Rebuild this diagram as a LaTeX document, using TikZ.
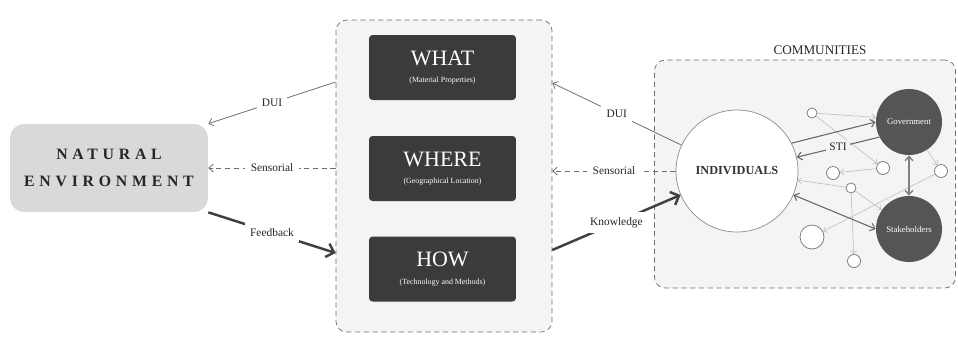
\documentclass[tikz,border=0pt]{standalone}
\usepackage{fontspec}
\setmainfont{Liberation Serif}
\usepackage{xcolor}
\usepackage{tikz}
\usetikzlibrary{arrows.meta}

\definecolor{panelgray}{HTML}{F4F4F4}
\definecolor{envgray}{HTML}{D9D9D9}
\definecolor{boxdark}{HTML}{3B3B3B}
\definecolor{circdark}{HTML}{555555}
\definecolor{linegray}{HTML}{6E6E6E}
\definecolor{faint}{HTML}{C4C4C4}

\begin{document}
\begin{tikzpicture}[x=0.02cm, y=-0.02cm,
  panel/.style={draw=linegray, densely dashed, fill=panelgray, rounded corners=6pt},
  darkbox/.style={draw=none, fill=boxdark, rounded corners=2pt, text=white,
                  minimum width=2.94cm, minimum height=1.3cm, align=center},
  lbl/.style={font=\fontsize{6.5}{7}\selectfont, text=black!85, inner sep=3pt},
  thin/.style={draw=linegray, line width=0.45pt, -{Straight Barb[length=2.5pt,width=4.5pt]}},
  sens/.style={draw=linegray, line width=0.45pt, densely dashed, -{Straight Barb[length=2.5pt,width=4.5pt]}},
  heavy/.style={draw=black!75, line width=1.4pt, -{Straight Barb[length=4pt,width=8pt]}},
  link/.style={draw=faint, line width=0.4pt, -{Straight Barb[length=2pt,width=3.5pt]}},
  strong/.style={draw=circdark!90, line width=0.6pt, -{Straight Barb[length=2.5pt,width=4.5pt]}},
  dot/.style={circle, draw=black!55, fill=white, line width=0.4pt, inner sep=0pt, minimum size=#1},
]
  \useasboundingbox (0,0) rectangle (958,336);

  % left: natural environment
  \node[fill=envgray, rounded corners=8pt, minimum width=3.96cm, minimum height=1.76cm,
        align=center, font=\fontsize{9}{15}\selectfont\bfseries\addfontfeature{LetterSpace=30},
        text=black!85] (nat) at (109,168) {NATURAL\\ENVIRONMENT};

  % middle panel
  \node[panel, minimum width=4.32cm, minimum height=6.24cm] (mid) at (444,176) {};
  \node[darkbox] (wht) at (442.5,67.5)
    {{\fontsize{12.5}{14}\selectfont WHAT}\\[-2pt]{\fontsize{4.5}{5}\selectfont (Material Properties)}};
  \node[darkbox] (whr) at (442.5,168.5)
    {{\fontsize{12.5}{14}\selectfont WHERE}\\[-2pt]{\fontsize{4.5}{5}\selectfont (Geographical Location)}};
  \node[darkbox] (how) at (442.5,269)
    {{\fontsize{12.5}{14}\selectfont HOW}\\[-2pt]{\fontsize{4.5}{5}\selectfont (Technology and Methods)}};

  % right: communities
  \node[panel, minimum width=6.02cm, minimum height=4.56cm] (com) at (805,174) {};
  \node[font=\fontsize{7.5}{8}\selectfont, text=black!85] (comlbl) at (820,50) {COMMUNITIES};

  \node[circle, draw=black!45, fill=white, line width=0.4pt, minimum size=2.44cm,
        font=\fontsize{7}{8}\selectfont\bfseries, text=black!80] (ind) at (737,171) {INDIVIDUALS};
  \node[circle, fill=circdark, minimum size=1.32cm, inner sep=0pt, text=white,
        font=\fontsize{5}{6}\selectfont] (gov) at (909,122) {Government};
  \node[circle, fill=circdark, minimum size=1.32cm, inner sep=0pt, text=white,
        font=\fontsize{5}{6}\selectfont] (stk) at (909,229) {Stakeholders};

  \node[dot=0.2cm]  (a) at (812,113) {};
  \node[dot=0.26cm] (b) at (883,168) {};
  \node[dot=0.26cm] (c) at (833,173) {};
  \node[dot=0.26cm] (d) at (941,171) {};
  \node[dot=0.2cm]  (e) at (851,188) {};
  \node[dot=0.48cm] (f) at (812,237) {};
  \node[dot=0.26cm] (g) at (854,261) {};

  % faint links
  \draw[link] (a) -- (gov.172);
  \draw[link] (a) -- (b);
  \draw[link] (b) -- (c);
  \draw[link] (gov) -- (d);
  \draw[link] (d) -- (f);
  \draw[link] (e) -- (ind);
  \draw[link] (e) -- (stk);
  \draw[link] (e) -- (g);

  % main community links
  \draw[strong] (ind.27) -- (gov.180);
  \draw[strong] (gov.207) -- node[lbl, fill=panelgray, inner sep=2pt] (sti) {STI} (ind.13);
  \draw[strong, {Straight Barb[length=2.5pt,width=4.5pt]}-{Straight Barb[length=2.5pt,width=4.5pt]}]
    (ind.337) -- (stk.180);
  \draw[strong, draw=black!50, line width=0.8pt,
        {Straight Barb[length=2.5pt,width=4.5pt]}-{Straight Barb[length=2.5pt,width=4.5pt]}]
    (gov.south) -- (stk.north);

  % left connectors
  \draw[thin] (mid.west |- 0,82) -- node[lbl, fill=white] (duil) {DUI} (nat.north east);
  \draw[sens] (mid.west |- nat.east) -- node[lbl, fill=white] (sensl) {Sensorial} (nat.east);
  \draw[heavy] (nat.south east) -- node[lbl, fill=white] (fb) {Feedback} (mid.west |- 0,253);

  % right connectors
  \draw[thin] (ind.155) -- node[lbl, fill=white] (duir) {DUI} (mid.east |- 0,83);
  \draw[sens] (ind.west) -- node[lbl, fill=white] (sensr) {Sensorial} (mid.east |- ind.west);
  \draw[heavy] (mid.east |- 0,250) -- node[lbl, fill=white] (kn) {Knowledge} (ind.203);
\end{tikzpicture}
\end{document}
